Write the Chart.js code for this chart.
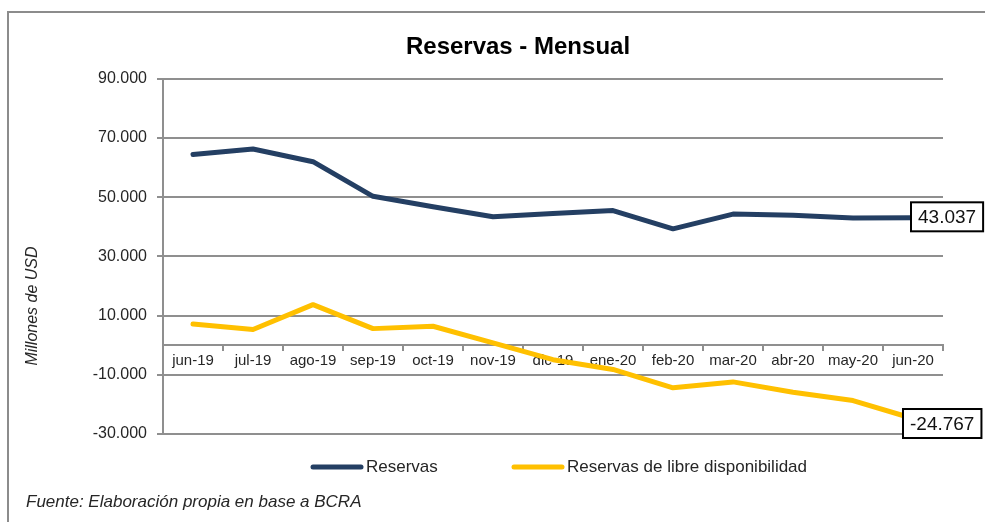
<!DOCTYPE html>
<html>
<head>
<meta charset="utf-8">
<script src="https://cdn.jsdelivr.net/npm/chart.js@4.4.1/dist/chart.umd.min.js"></script>
<style>
  html, body { margin: 0; padding: 0; background: #ffffff; }
  #wrap { width: 985px; height: 522px; position: relative; }
</style>
</head>
<body>
<div id="wrap"><canvas id="chart"></canvas></div>
<script>
'use strict';

// Datos (millones de USD)
const meses = ['jun-19', 'jul-19', 'ago-19', 'sep-19', 'oct-19', 'nov-19', 'dic-19',
               'ene-20', 'feb-20', 'mar-20', 'abr-20', 'may-20', 'jun-20'];
const reservas = [64400, 66300, 62000, 50300, 46800, 43400, 44500, 45500, 39300, 44300, 43900, 43000, 43037];
const libreDisp = [7200, 5300, 13700, 5600, 6400, 800, -4900, -8200, -14400, -12400, -15900, -18700, -24767];
const yTicks = { min: -30000, max: 90000, step: 20000 };

const GRID = '#8f8f8f';
const TEXT = '#262626';
const FONT = "'Liberation Sans', Arial, sans-serif";

// 90000 -> "90.000"
function fmt(v) {
  const s = String(Math.abs(Math.round(v))).replace(/\B(?=(\d{3})+(?!\d))/g, '.');
  return (v < 0 ? '-' : '') + s;
}

// marco, titulo del eje, leyenda, fuente y etiquetas del ultimo valor
const extras = {
  id: 'extras',
  afterDatasetsDraw(chart) {
    const ctx = chart.ctx;
    const shift = [{ dx: -2, dy: -1 }, { dx: -10, dy: 5 }];
    ctx.save();
    chart.data.datasets.forEach((ds, i) => {
      const meta = chart.getDatasetMeta(i);
      const pt = meta.data[meta.data.length - 1];
      const txt = fmt(ds.data[ds.data.length - 1]);
      ctx.font = '19px ' + FONT;
      const w = ctx.measureText(txt).width + 14;
      const h = 29;
      const x = pt.x + shift[i].dx;
      const y = pt.y + shift[i].dy - h / 2;
      ctx.fillStyle = '#ffffff';
      ctx.fillRect(x, y, w, h);
      ctx.strokeStyle = '#000000';
      ctx.lineWidth = 2;
      ctx.strokeRect(x, y, w, h);
      ctx.fillStyle = '#111111';
      ctx.textAlign = 'left';
      ctx.textBaseline = 'middle';
      ctx.fillText(txt, x + 7, y + h / 2 + 1);
    });
    ctx.restore();
  },
  afterDraw(chart) {
    const ctx = chart.ctx;
    ctx.save();
    // borde exterior
    ctx.strokeStyle = '#8c8c8c';
    ctx.lineWidth = 2;
    ctx.strokeRect(8, 12, 1000, 530);

    // titulo eje Y
    ctx.fillStyle = TEXT;
    ctx.font = 'italic 16px ' + FONT;
    ctx.textAlign = 'center';
    ctx.textBaseline = 'middle';
    ctx.translate(33, 306);
    ctx.rotate(-Math.PI / 2);
    ctx.fillText('Millones de USD', 0, 0);
    ctx.setTransform(1, 0, 0, 1, 0, 0);

    // leyenda
    const items = [{ x: 311 }, { x: 512 }];
    ctx.font = '17px ' + FONT;
    ctx.textAlign = 'left';
    chart.data.datasets.forEach((ds, i) => {
      ctx.strokeStyle = ds.borderColor;
      ctx.lineWidth = 5;
      ctx.lineCap = 'round';
      ctx.beginPath();
      ctx.moveTo(items[i].x + 2, 467);
      ctx.lineTo(items[i].x + 50, 467);
      ctx.stroke();
      ctx.fillStyle = TEXT;
      ctx.fillText(ds.label, items[i].x + 55, 467);
    });

    // fuente
    ctx.font = 'italic 17px ' + FONT;
    ctx.fillText('Fuente: Elaboración propia en base a BCRA', 26, 502);
    ctx.restore();
  }
};

new Chart(document.getElementById('chart'), {
  type: 'line',
  data: {
    labels: meses,
    datasets: [
      {
        label: 'Reservas',
        data: reservas,
        borderColor: '#243f63',
        borderWidth: 5,
        tension: 0,
        pointRadius: 0,
        borderCapStyle: 'round',
        borderJoinStyle: 'round'
      },
      {
        label: 'Reservas de libre disponibilidad',
        data: libreDisp,
        borderColor: '#ffc000',
        borderWidth: 5,
        tension: 0,
        pointRadius: 0,
        borderCapStyle: 'round',
        borderJoinStyle: 'round'
      }
    ]
  },
  options: {
    responsive: true,
    maintainAspectRatio: false,
    animation: false,
    layout: { padding: { left: 93, right: 42, top: 0, bottom: 88 } },
    plugins: {
      legend: { display: false },
      tooltip: { enabled: false },
      title: {
        display: true,
        text: 'Reservas - Mensual',
        color: '#000000',
        font: { family: FONT, size: 24, weight: 'bold', lineHeight: 1.2 },
        padding: { top: 33, bottom: 17 }
      }
    },
    scales: {
      x: {
        position: { y: 0 },
        offset: true,
        border: { display: true, color: GRID, width: 2 },
        grid: { offset: true, drawOnChartArea: false, drawTicks: true, tickLength: 5, color: GRID, lineWidth: 2 },
        ticks: { color: TEXT, font: { family: FONT, size: 15 }, padding: 2, maxRotation: 0, autoSkip: false }
      },
      y: {
        min: yTicks.min,
        max: yTicks.max,
        afterFit(scale) { scale.width = 70; },
        border: { display: true, color: GRID, width: 2 },
        grid: { color: GRID, lineWidth: 2, drawTicks: true, tickLength: 6 },
        ticks: {
          stepSize: yTicks.step,
          color: TEXT,
          padding: 10,
          font: { family: FONT, size: 16 },
          callback: (v) => fmt(v)
        }
      }
    }
  },
  plugins: [extras]
});
</script>
</body>
</html>
